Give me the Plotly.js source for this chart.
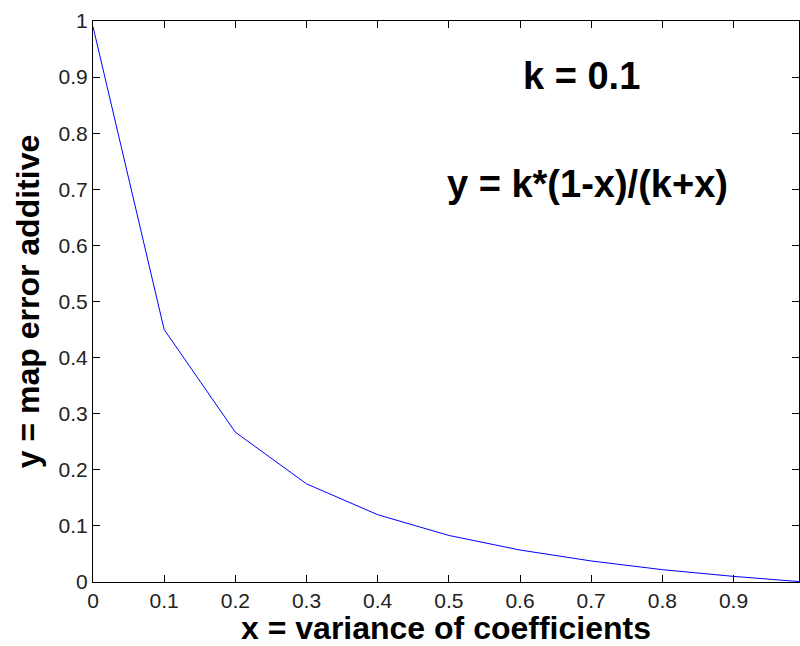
<!DOCTYPE html>
<html>
<head>
<meta charset="utf-8">
<script src="https://cdn.plot.ly/plotly-3.0.1.min.js"></script>
<style>html,body{margin:0;padding:0;background:#fff;}#chart{width:800px;height:646px;}</style>
</head>
<body>
<div id="chart"></div>
<script>
// Values
const xValues = [0, 0.1, 0.2, 0.3, 0.4, 0.5, 0.6, 0.7, 0.8, 0.9, 1.0];
const yValues = [0.99, 0.45, 0.267, 0.175, 0.12, 0.083, 0.057, 0.0375, 0.022, 0.01, 0.0];
const xTickVals = [0, 0.1, 0.2, 0.3, 0.4, 0.5, 0.6, 0.7, 0.8, 0.9];
const xTickText = ['0', '0.1', '0.2', '0.3', '0.4', '0.5', '0.6', '0.7', '0.8', '0.9'];
const yTickVals = [0, 0.1, 0.2, 0.3, 0.4, 0.5, 0.6, 0.7, 0.8, 0.9, 1];
const yTickText = ['0', '0.1', '0.2', '0.3', '0.4', '0.5', '0.6', '0.7', '0.8', '0.9', '1'];
const xTitle = 'x = variance of coefficients';
const yTitle = 'y = map error additive';
const note1 = 'k = 0.1';
const note2 = 'y = k*(1-x)/(k+x)';

const tickFont = {family: 'Liberation Sans, Arial, sans-serif', size: 21, color: '#222'};
const titleFont = {family: 'Liberation Sans, Arial, sans-serif', size: 32, color: '#000', weight: 'bold'};
const noteFont = {family: 'Liberation Sans, Arial, sans-serif', size: 38, color: '#000', weight: 'bold'};

const axisCommon = {
  showline: true, linecolor: '#000', linewidth: 1, mirror: 'ticks',
  ticks: 'inside', ticklen: 7, tickcolor: '#000', tickwidth: 1,
  showgrid: false, zeroline: false, tickfont: tickFont, tickmode: 'array'
};

Plotly.newPlot('chart', [{
  x: xValues, y: yValues, type: 'scatter', mode: 'lines',
  line: {color: '#0000ff', width: 1}, hoverinfo: 'skip'
}], {
  width: 800, height: 646,
  margin: {l: 93, r: 1, t: 21, b: 64},
  paper_bgcolor: '#fff', plot_bgcolor: '#fff',
  showlegend: false,
  xaxis: Object.assign({}, axisCommon, {
    range: [0, 0.992], tickvals: xTickVals, ticktext: xTickText,
    title: {text: xTitle, font: titleFont, standoff: 4}
  }),
  yaxis: Object.assign({}, axisCommon, {
    range: [0, 1], tickvals: yTickVals, ticktext: yTickText,
    title: {text: yTitle, font: titleFont, standoff: 9}
  }),
  annotations: [
    {text: note1, x: 0.687, y: 0.902, xref: 'x', yref: 'y', showarrow: false, font: noteFont, xanchor: 'center', yanchor: 'middle'},
    {text: note2, x: 0.695, y: 0.71, xref: 'x', yref: 'y', showarrow: false, font: noteFont, xanchor: 'center', yanchor: 'middle'}
  ]
}, {staticPlot: true});
</script>
</body>
</html>
